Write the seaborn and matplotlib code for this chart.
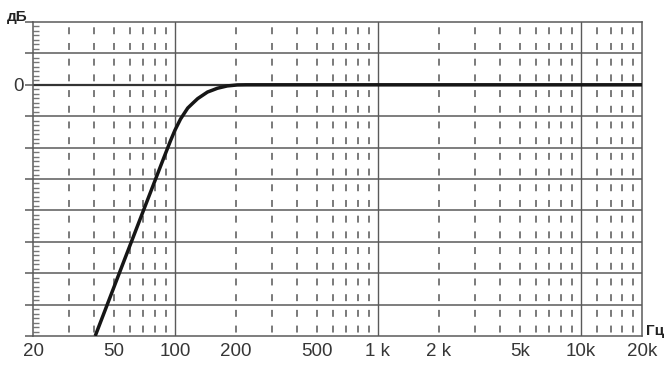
import matplotlib
matplotlib.use("Agg")
import matplotlib.pyplot as plt
import seaborn as sns
import pandas as pd
from matplotlib.ticker import FixedLocator, AutoMinorLocator, NullFormatter

# ---- data ----
freq_hz = [40.5, 55, 71, 88, 95, 100, 106.6, 115.7, 122.5, 129.5, 137, 144.8, 153, 162,
           171, 181, 192, 203, 225, 500, 1000, 5000, 20000]
level_db = [-40, -28.8, -19.5, -11.7, -8.96, -7.25, -5.45, -3.7, -2.93, -2.2, -1.67, -1.15,
            -0.86, -0.55, -0.37, -0.18, -0.1, -0.02, 0, 0, 0, 0, 0]

xtick_vals = [20, 50, 100, 200, 500, 1000, 2000, 5000, 10000, 20000]
xtick_labels = ["20", "50", "100", "200", "500", "1 k", "2 k", "5k", "10k", "20k"]
major_vlines = [100, 1000, 10000]
minor_vlines = [30, 40, 50, 60, 70, 80, 90,
                200, 300, 400, 500, 600, 700, 800, 900,
                2000, 3000, 4000, 5000, 6000, 7000, 8000, 9000,
                12000, 14000, 16000, 18000]
hlines_db = [5, -5, -10, -15, -20, -25, -30, -35]
y_min, y_max = -40, 10

sns.set_theme(style="white")
plt.rcParams["font.family"] = ["Liberation Sans", "DejaVu Sans"]
plt.rcParams["lines.scale_dashes"] = False

fig = plt.figure(figsize=(6.7, 3.65), dpi=100)
ax = fig.add_axes([33 / 670, 1 - 336 / 365, (642 - 33) / 670, (336 - 22) / 365])
ax.set_xscale("log")
ax.set_xlim(20, 20000)
ax.set_ylim(y_min, y_max)

grid_col = "#5a5a5a"
# dashed minor verticals
period_pt = 15.7 * 72 / 100
on_pt = 5.0
dash = (period_pt - on_pt / 2, (on_pt, period_pt - on_pt))
for f in minor_vlines:
    ax.axvline(f, color="#7a7a7a", lw=1.4, linestyle=dash, zorder=1)
for f in major_vlines:
    ax.axvline(f, color=grid_col, lw=1.0, zorder=1.5)
for h in hlines_db:
    ax.axhline(h, color=grid_col, lw=1.1, zorder=1.5)
ax.axhline(0, color="#333333", lw=1.6, zorder=1.6)

df = pd.DataFrame({"f": freq_hz, "db": level_db})
sns.lineplot(data=df, x="f", y="db", ax=ax, color="#161616", lw=2.5, zorder=3,
             sort=False, solid_capstyle="butt", solid_joinstyle="round")
ax.set_xlabel("")
ax.set_ylabel("")

for side in ["top", "bottom", "left", "right"]:
    ax.spines[side].set_visible(True)
    ax.spines[side].set_color(grid_col)
    ax.spines[side].set_linewidth(1.1)

ax.xaxis.set_major_locator(FixedLocator(xtick_vals))
ax.set_xticklabels(xtick_labels)
ax.xaxis.set_minor_locator(FixedLocator([]))
ax.xaxis.set_minor_formatter(NullFormatter())
ax.tick_params(axis="x", which="both", length=0, pad=5, labelsize=13.5, labelcolor="#363636")

yt = [10, 5, 0, -5, -10, -15, -20, -25, -30, -35, -40]
ax.yaxis.set_major_locator(FixedLocator(yt))
ax.set_yticklabels(["0" if v == 0 else "" for v in yt])
ax.yaxis.set_minor_locator(AutoMinorLocator(7))
ax.tick_params(axis="y", which="major", direction="out", length=6, width=1.1,
               color=grid_col, pad=1.0, labelsize=13.5, labelcolor="#363636", left=True)
ax.tick_params(axis="y", which="minor", direction="in", length=4, width=1.0,
               color="#777777", left=True)

fig.text(7 / 670, 1 - 17 / 365, "дБ", fontsize=11, fontweight="bold", color="#222222",
         ha="left", va="center")
fig.text(646 / 670, 1 - 331 / 365, "Гц", fontsize=11, fontweight="bold", color="#222222",
         ha="left", va="center")

fig.savefig("out.png", dpi=100, facecolor="white")
